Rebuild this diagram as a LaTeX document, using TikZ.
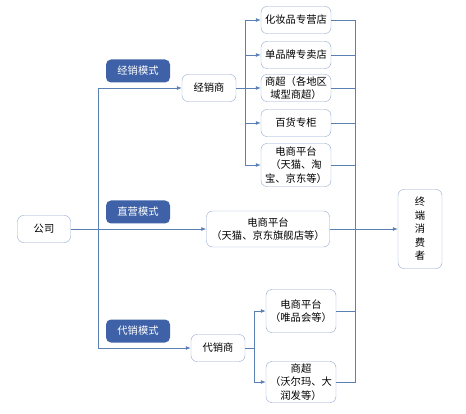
\documentclass[tikz,border=0pt]{standalone}
\usepackage{fontspec}
\usetikzlibrary{arrows.meta}
\newfontfamily\cjk{Noto Sans CJK SC}
\definecolor{linecol}{HTML}{5B80B4}
\definecolor{boxcol}{HTML}{8EA8CC}
\definecolor{modecol}{HTML}{3F61A7}

\begin{document}
\begin{tikzpicture}[x=1pt,y=-1pt,
    box/.style={draw=boxcol,fill=white,rounded corners=6pt,align=center,
      inner sep=0pt,font=\cjk\fontsize{10.3}{13.5}\selectfont},
    modebox/.style={fill=modecol,text=white,rounded corners=5pt,
      minimum width=64pt,minimum height=23pt,inner sep=0pt,
      font=\cjk\fontsize{10.3}{12}\selectfont},
    conn/.style={draw=linecol,line width=0.8pt},
    arr/.style={conn,-{Latex[length=5pt,width=4pt]}}]
  \useasboundingbox (0,0) rectangle (466,414);

  % company and modes
  \node[box,minimum width=53pt,minimum height=27pt] (gs) at (44,229) {公司};
  \node[modebox] (m1) at (138,71) {经销模式};
  \node[modebox] (m2) at (138,212) {直营模式};
  \node[modebox] (m3) at (138,331) {代销模式};

  \node[box,minimum width=54pt,minimum height=27pt] (jxs) at (209,88) {经销商};
  \node[box,minimum width=123pt,minimum height=36pt] (zy) at (268,229) {电商平台\\（天猫、京东旗舰店等）};
  \node[box,minimum width=54pt,minimum height=27pt] (dxs) at (218,348) {代销商};

  % shops of the distributor
  \node[box,minimum width=70pt,minimum height=27pt] (hzp) at (296,20) {化妆品专营店};
  \node[box,minimum width=70pt,minimum height=27pt] (dpp) at (296,55) {单品牌专卖店};
  \node[box,minimum width=70pt,minimum height=27pt] (sc) at (296,88) {商超（各地区\\域型商超）};
  \node[box,minimum width=70pt,minimum height=27pt] (bh) at (296,123) {百货专柜};
  \node[box,minimum width=70pt,minimum height=43pt] (ds) at (296,165) {电商平台\\（天猫、淘\\宝、京东等）};

  % shops of the agent
  \node[box,minimum width=70pt,minimum height=43pt] (vip) at (301,311) {电商平台\\（唯品会等）};
  \node[box,minimum width=70pt,minimum height=41pt] (wem) at (301,382) {商超\\（沃尔玛、大\\润发等）};

  \node[box,minimum width=44pt,minimum height=79pt] (zd) at (420,229) {终\\端\\消\\费\\者};

  \coordinate (t) at (98,229);
  \coordinate (s1) at (245,88);
  \coordinate (s2) at (254,348);
  \coordinate (mg) at (355,229);

  % company to channels
  \draw[arr] (gs) -- (zy);
  \draw[arr] (t) |- (jxs);
  \draw[arr] (t) |- (dxs);

  \draw[conn] (jxs) -- (s1);
  \foreach \n in {hzp,dpp,sc,bh,ds}
    \draw[arr] (s1) |- (\n);
  \draw[conn] (dxs) -- (s2);
  \foreach \n in {vip,wem}
    \draw[arr] (s2) |- (\n);

  % everything meets the consumer
  \foreach \n in {hzp,dpp,sc,bh,ds,vip,wem}
    \draw[conn] (\n.east) -| (mg);
  \draw[arr] (zy) -- (zd);
\end{tikzpicture}
\end{document}
